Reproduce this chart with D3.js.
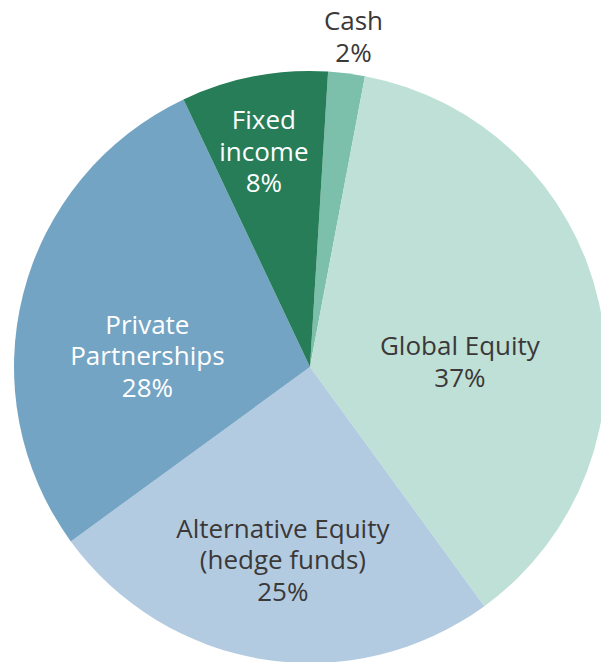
<!DOCTYPE html>
<html>
<head>
<meta charset="utf-8">
<script src="https://cdn.jsdelivr.net/npm/d3@7"></script>
<style>
  body { margin: 0; background: #fff; }
  svg { display: block; }
</style>
</head>
<body>
<div id="chart"></div>
<script>
// data
var categories = ["Cash", "Global Equity", "Alternative Equity", "Private Partnerships", "Fixed income"];
var shares = [2, 37, 25, 28, 8];
var labelLines = [
  ["Cash", "2%"],
  ["Global Equity", "37%"],
  ["Alternative Equity", "(hedge funds)", "25%"],
  ["Private", "Partnerships", "28%"],
  ["Fixed", "income", "8%"]
];
var sliceColors = ["#7cc0ac", "#bfe0d6", "#b3cbe0", "#74a4c4", "#267d58"];
var labelColors = ["#3b3838", "#3b3838", "#3b3838", "#ffffff", "#ffffff"];

var width = 601, height = 662;
var cx = 310, cy = 367, radius = 296;
var startOffset = 3.5 * Math.PI / 180; // first slice starts a little right of 12 o'clock
var lineH = 31.5;

// label placement tweaks: radius and angle shift (degrees) from slice middle
var labelLayout = {
  "Cash": {r: 333, shift: 0.4},
  "Global Equity": {r: 150, shift: 10.7},
  "Alternative Equity": {r: 195, shift: -0.9},
  "Private Partnerships": {r: 163, shift: -10.4},
  "Fixed income": {r: 220, shift: -1.2}
};

var svg = d3.select("#chart").append("svg")
  .attr("width", width)
  .attr("height", height);

var g = svg.append("g")
  .attr("transform", "translate(" + cx + "," + cy + ")");

var data = categories.map(function(c, i) {
  return {name: c, value: shares[i], lines: labelLines[i], color: sliceColors[i], textColor: labelColors[i]};
});

var pie = d3.pie()
  .sort(null)
  .value(function(d) { return d.value; })
  .startAngle(startOffset)
  .endAngle(startOffset + 2 * Math.PI);

var arc = d3.arc()
  .innerRadius(0)
  .outerRadius(radius);

var arcs = pie(data);

g.selectAll("path.slice")
  .data(arcs)
  .enter().append("path")
  .attr("class", "slice")
  .attr("d", arc)
  .style("fill", function(d) { return d.data.color; });

var labels = g.selectAll("text.label")
  .data(arcs)
  .enter().append("text")
  .attr("class", "label")
  .attr("text-anchor", "middle")
  .style("font-family", "'Open Sans', 'Noto Sans', sans-serif")
  .style("font-size", "26px")
  .style("fill", function(d) { return d.data.textColor; })
  .attr("transform", function(d) {
    var lay = labelLayout[d.data.name];
    var a = (d.startAngle + d.endAngle) / 2 + lay.shift * Math.PI / 180;
    var x = lay.r * Math.sin(a), y = -lay.r * Math.cos(a);
    return "translate(" + x + "," + y + ")";
  });

labels.selectAll("tspan")
  .data(function(d) {
    var n = d.data.lines.length;
    return d.data.lines.map(function(t, i) { return {t: t, off: (i - (n - 1) / 2) * lineH}; });
  })
  .enter().append("tspan")
  .attr("x", 0)
  .attr("y", function(d) { return d.off; })
  .attr("dy", "0.35em")
  .text(function(d) { return d.t; });
</script>
</body>
</html>
